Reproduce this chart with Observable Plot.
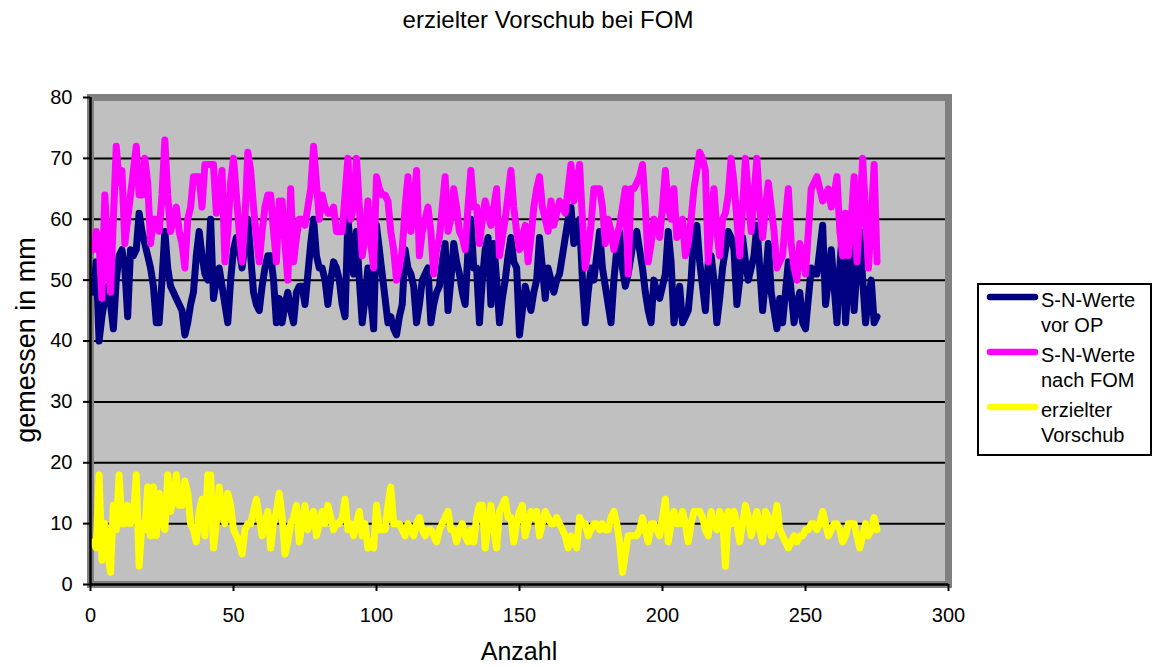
<!DOCTYPE html>
<html><head><meta charset="utf-8">
<script src="https://cdn.jsdelivr.net/npm/d3@7"></script>
<script src="https://cdn.jsdelivr.net/npm/@observablehq/plot@0.6"></script>
<style>
body{margin:0;background:#fff;font-family:"Liberation Sans",Arial,sans-serif;color:#000}
#wrap{position:relative;width:1159px;height:667px;overflow:hidden}
#title{position:relative;height:40px}
#title span{position:absolute;left:548px;top:8px;transform:translateX(-50%);font-size:24px;line-height:1;white-space:nowrap}
#legend{position:absolute;left:977px;top:283px;width:171px;height:169px;border:2px solid #000;background:#fff}
#legend .sw{position:absolute;left:4px;width:60px;height:12px}
#legend .tx{position:absolute;left:62px;font-size:20px;line-height:25px;white-space:nowrap}
</style></head>
<body>
<div id="wrap">
  <div id="title"><span>erzielter Vorschub bei FOM</span></div>
  <div id="chart"></div>
  <div id="legend"></div>
</div>
<script>
const titleText = "erzielter Vorschub bei FOM";
const xLabel = "Anzahl";
const yLabel = "gemessen in mm";
const xTicks = [0, 50, 100, 150, 200, 250, 300];
const yTicks = [0, 10, 20, 30, 40, 50, 60, 70, 80];
const gridLines = [10, 20, 30, 40, 50, 60, 70];
const seriesNames = [["S-N-Werte", "vor OP"], ["S-N-Werte", "nach FOM"], ["erzielter", "Vorschub"]];
const seriesColors = ["#000080", "#FF00FF", "#FFFF00"];

const vorOP = [
48,53,40,44,47,49,46,42,50,54,
55,52,44,55,54,55,61,58,56,54,
52,49,43,43,50,58,52,49,48,47,
46,45,41,43,46,48,54,58,54,51,
50,60,47,50,52,49,46,43,50,55,
57,55,52,56,60,54,48,46,45,49,
52,54,54,50,43,47,43,46,48,45,
43,48,49,49,46,51,56,60,54,52,
52,50,46,50,53,52,50,46,44,60,
55,51,58,50,43,47,52,47,42,59,
55,51,47,43,44,42,41,44,46,55,
52,51,49,43,46,50,51,52,43,46,
48,49,53,56,45,50,56,53,51,48,
46,55,60,52,52,43,50,55,57,46,
56,50,43,47,50,54,57,53,52,41,
45,49,47,45,48,50,57,52,47,52,
50,48,50,51,54,57,60,62,56,58,
60,50,43,48,52,50,54,58,52,49,
46,43,50,55,58,52,49,51,54,57,
58,55,52,48,45,43,50,48,47,49,
51,58,53,43,46,49,43,44,45,50,
58,59,53,49,45,53,54,50,43,47,
52,55,58,57,55,46,50,57,53,50,
52,54,59,52,45,50,56,48,45,42,
47,43,48,53,48,43,46,48,43,42,
47,52,51,51,55,59,46,50,55,49,
43,52,59,43,50,57,45,52,58,50,
43,47,50,43,44];

const nachFOM = [
55,58,56,47,64,55,48,60,72,66,
68,56,60,64,68,72,64,64,70,66,
56,60,60,58,64,73,64,58,60,62,
58,56,52,60,62,67,67,67,62,69,
69,69,69,61,64,68,53,58,66,70,
64,58,53,60,71,68,62,57,53,58,
62,64,64,58,53,63,63,56,50,65,
53,57,60,60,59,62,65,72,66,60,
64,62,61,61,62,58,58,58,64,70,
60,62,70,62,54,57,63,56,52,67,
65,64,64,63,58,55,50,52,55,62,
67,58,62,68,54,58,60,62,58,51,
55,57,62,67,58,60,65,62,58,57,
55,62,68,62,62,56,60,63,61,59,
62,65,54,57,60,64,68,62,58,55,
57,59,53,57,62,65,67,62,60,58,
63,59,61,63,62,61,65,69,63,66,
69,60,52,55,59,65,65,65,62,56,
60,58,55,57,59,62,65,51,65,65,
66,67,69,62,53,56,60,59,57,62,
68,62,60,65,57,58,60,54,56,60,
65,68,71,70,68,53,60,65,58,54,
60,61,64,70,66,60,54,62,70,64,
58,64,70,62,57,62,66,62,58,52,
53,54,60,65,56,52,50,56,54,51,
58,65,66,67,65,63,64,65,62,64,
67,58,54,61,54,60,67,53,61,70,
61,52,60,69,53];

const vorschub = [
7,6,18,4,10,5,2,13,9,18,
10,10,13,10,11,18,3,10,9,16,
8,16,8,15,10,9,18,12,14,18,
13,13,17,15,10,9,7,12,14,8,
18,18,6,10,16,12,10,15,13,9,
8,7,5,9,10,10,12,14,11,8,
10,12,6,10,12,15,11,5,7,10,
11,13,7,10,13,9,11,12,8,10,
12,10,13,11,9,10,10,11,14,9,
10,8,10,12,8,10,6,7,6,13,
9,9,9,13,16,10,10,10,9,8,
10,9,8,10,11,9,8,9,9,8,
7,9,10,11,12,9,9,7,9,10,
8,7,9,7,11,13,13,6,10,13,
9,6,12,13,14,11,11,7,10,12,
13,8,10,12,11,12,8,10,12,11,
10,10,11,10,9,8,6,8,7,6,
11,10,10,8,9,10,10,9,10,9,
9,11,12,10,7,2,5,8,8,8,
8,9,11,9,7,10,10,9,8,11,
14,7,10,12,10,10,12,10,7,10,
12,12,12,11,9,8,12,10,9,12,
11,3,12,10,12,10,7,10,13,11,
8,10,12,9,7,12,11,8,10,13,
9,8,7,6,7,8,7,8,8,9,
9,10,10,9,10,12,10,8,9,10,
10,9,7,8,10,10,10,8,6,8,
10,8,9,11,9];

const seriesValues = [vorOP, nachFOM, vorschub];
const toRows = vals => vals.map((v, i) => ({x: i + 1, y: v}));

const lineOpts = c => ({x: "x", y: "y", stroke: c, strokeWidth: 7, strokeLinejoin: "round", strokeLinecap: "round"});

const chart = Plot.plot({
  width: 1159, height: 627,
  marginTop: 57, marginBottom: 83, marginLeft: 90, marginRight: 211,
  style: {fontFamily: "'Liberation Sans', Arial, sans-serif", fontSize: "20px", background: "transparent", color: "#000", overflow: "visible"},
  x: {domain: [0, 300], label: null},
  y: {domain: [0, 80], label: null},
  marks: [
    Plot.frame({fill: "#C0C0C0"}),
    Plot.ruleY(gridLines, {stroke: "#000", strokeWidth: 2}),
    Plot.frame({stroke: "#808080", strokeWidth: 7}),
    ...seriesValues.map((vals, i) => Plot.line(toRows(vals), lineOpts(seriesColors[i]))),
    Plot.ruleX([0], {stroke: "#000", strokeWidth: 2.5}),
    Plot.ruleY([0], {stroke: "#000", strokeWidth: 2.5}),
    Plot.axisX({ticks: xTicks, tickSize: 7, tickPadding: 16, strokeWidth: 2, label: null, fontSize: 20}),
    Plot.axisY({ticks: yTicks, tickSize: 7, tickPadding: 11, strokeWidth: 2, label: null, fontSize: 20})
  ]
});
document.getElementById("chart").appendChild(chart);

const svg = d3.select(chart);
svg.append("text")
  .attr("x", 519).attr("y", 620)
  .attr("text-anchor", "middle")
  .style("font-size", "25px")
  .attr("fill", "#000")
  .text(xLabel);
svg.append("text")
  .attr("transform", "translate(35,300) rotate(-90)")
  .attr("text-anchor", "middle")
  .style("font-size", "27px")
  .attr("fill", "#000")
  .text(yLabel);

const legend = document.getElementById("legend");
seriesNames.forEach((lines, i) => {
  const top = 55.3 * i;
  const sw = document.createElementNS("http://www.w3.org/2000/svg", "svg");
  sw.setAttribute("class", "sw");
  sw.setAttribute("width", 60); sw.setAttribute("height", 12);
  sw.style.top = (5.7 + top) + "px";
  sw.innerHTML = `<line x1="7" y1="6" x2="52" y2="6" stroke="${seriesColors[i]}" stroke-width="6.5" stroke-linecap="round"/>`;
  legend.appendChild(sw);
  const tx = document.createElement("div");
  tx.className = "tx";
  tx.style.top = (2.5 + top) + "px";
  tx.innerHTML = lines.join("<br>");
  legend.appendChild(tx);
});
</script>
</body></html>
